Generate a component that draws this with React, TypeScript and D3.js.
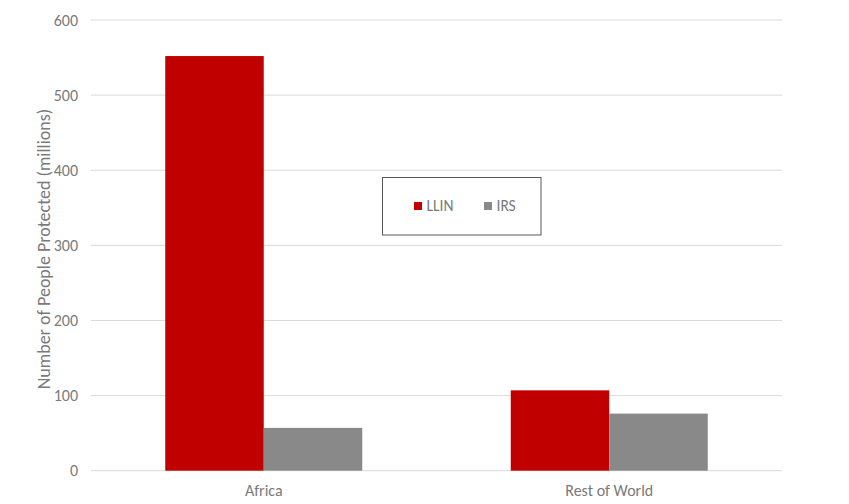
import React from "react";
import * as d3 from "d3";

const categories = ["Africa", "Rest of World"];
const seriesNames = ["LLIN", "IRS"];
const llinValues = [552, 107];
const irsValues = [57, 76];
const yTicks = [0, 100, 200, 300, 400, 500, 600];
const colors = ["#C00000", "#898989"];

export default function App() {
  const W = 849, H = 504;
  const left = 91, right = 782, top = 20, bottom = 470.7;
  const x0 = d3.scaleBand<string>().domain(categories).range([left, right]).paddingInner(0.0).paddingOuter(0);
  const bandPad = (x0.bandwidth() - 197) / 2;
  const x1 = d3.scaleBand<string>().domain(seriesNames).range([bandPad, x0.bandwidth() - bandPad]);
  const y = d3.scaleLinear().domain([0, 600]).range([bottom, top]);
  const series = [llinValues, irsValues];
  const font = "Calibri, Carlito, Lato, 'Liberation Sans', Arial, sans-serif";
  const txt = "#7a7a7a";
  return (
    <svg width={W} height={H} style={{ position: "absolute", left: 0, top: 0, background: "#fff" }} fontFamily={font}>
      {yTicks.map((t) => (
        <g key={t}>
          <line x1={left} x2={right} y1={y(t)} y2={y(t)} stroke="#d9d9d9" strokeWidth={1} />
          <text x={78} y={y(t)} dy="0.35em" textAnchor="end" fontSize={16} fill={txt}>{t}</text>
        </g>
      ))}
      {categories.map((c, i) => (
        <g key={c} transform={`translate(${x0(c)},0)`}>
          {seriesNames.map((s, j) => (
            <rect key={s} x={x1(s)} y={y(series[j][i])} width={x1.bandwidth()} height={bottom - y(series[j][i])} fill={colors[j]} />
          ))}
          <text x={x0.bandwidth() / 2} y={496} textAnchor="middle" fontSize={16} fill={txt}>{c}</text>
        </g>
      ))}
      <text transform={`translate(50,249) rotate(-90)`} textAnchor="middle" fontSize={18} fill={txt}>
        Number of People Protected (millions)
      </text>
      <rect x={382.5} y={177.5} width={158.5} height={57.5} fill="#fff" stroke="#595959" strokeWidth={1} />
      {seriesNames.map((s, j) => (
        <g key={s} transform={`translate(${j === 0 ? 414 : 484},202)`}>
          <rect x={0} y={0} width={8} height={8} fill={colors[j]} />
          <text x={12.5} y={4} dy="0.35em" fontSize={15.5} fill={txt}>{s}</text>
        </g>
      ))}
    </svg>
  );
}
